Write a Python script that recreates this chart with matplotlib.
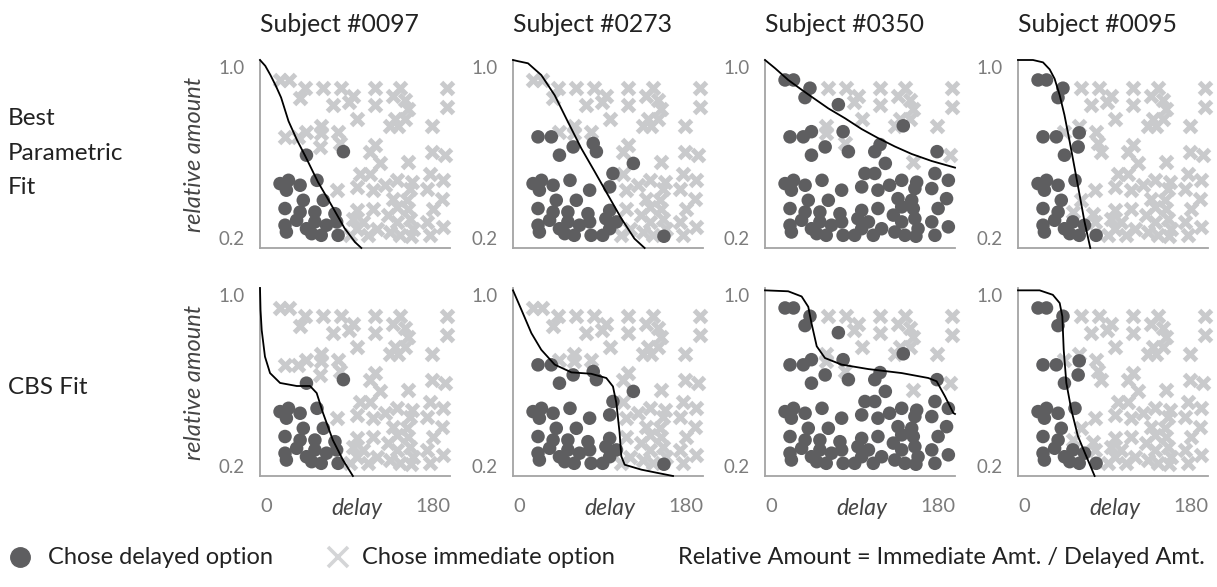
import matplotlib.pyplot as plt
from matplotlib.lines import Line2D

plt.rcParams['font.family'] = ['Lato', 'DejaVu Sans']

# shared stimulus set: delay (days) and relative amount of each question
delay = [19, 27, 42.6, 37.9, 60, 77, 88, 84, 109, 133,
         177, 126, 137, 109, 177, 69.5, 140.5, 91.6, 128, 137,
         123, 131, 163, 58, 58, 23.7, 36.3, 44, 74, 76,
         57, 79, 44, 104, 109, 114, 163, 140.5, 175, 94.7,
         104, 161, 19, 27, 25, 38, 54, 72.6, 91.6, 107,
         118, 129.5, 143.7, 142, 158, 173.7, 41, 60, 126, 129.5,
         139, 140.5, 172, 164, 23.7, 38, 52, 71, 91.6, 107,
         121.6, 23.7, 25, 34.7, 44, 52, 49, 63, 58, 72.6,
         74, 88, 91.6, 85, 98, 102.6, 110.5, 123, 129.5, 132.6,
         142, 145, 158, 161, 173.7, 143]
amount = [0.915, 0.915, 0.88, 0.84, 0.88, 0.88, 0.845, 0.82, 0.88, 0.88,
          0.88, 0.845, 0.83, 0.81, 0.80, 0.81, 0.79, 0.75, 0.75, 0.75,
          0.72, 0.72, 0.72, 0.72, 0.69, 0.673, 0.673, 0.695, 0.695, 0.645,
          0.63, 0.61, 0.595, 0.61, 0.64, 0.56, 0.61, 0.567, 0.595, 0.517,
          0.517, 0.517, 0.474, 0.488, 0.446, 0.467, 0.488, 0.446, 0.46, 0.446,
          0.467, 0.488, 0.48, 0.453, 0.453, 0.488, 0.403, 0.403, 0.41, 0.375,
          0.403, 0.368, 0.41, 0.368, 0.368, 0.353, 0.353, 0.346, 0.36, 0.368,
          0.34, 0.297, 0.268, 0.318, 0.282, 0.311, 0.261, 0.297, 0.254, 0.311,
          0.254, 0.325, 0.282, 0.254, 0.311, 0.254, 0.282, 0.268, 0.311, 0.254,
          0.325, 0.282, 0.311, 0.254, 0.29, 0.25]

subjects = ["Subject #0097", "Subject #0273", "Subject #0350", "Subject #0095"]

# questions where each subject picked the delayed option
delayed_0097 = [31, 32, 42, 43, 44, 45, 46, 56, 57, 64, 65, 66, 67,
                71, 72, 73, 74, 75, 76, 77, 78, 79, 80]
delayed_0273 = [25, 26, 29, 30, 31, 32, 35, 39, 42, 43, 44, 45, 46, 47, 48,
                56, 57, 64, 65, 66, 67, 68, 71, 72, 73, 74, 75, 76, 77, 78,
                79, 80, 81, 82, 83, 84, 95]
delayed_0350 = [0, 1, 2, 3, 15, 21, 25, 26, 27, 28, 30, 31, 32, 33, 34, 35, 36,
                39, 40, 41, 42, 43, 44, 45, 46, 47, 48, 49, 50, 51, 52, 53, 54,
                55, 56, 57, 58, 59, 60, 61, 62, 63, 64, 65, 66, 67, 68, 69, 70,
                71, 72, 73, 74, 75, 76, 77, 78, 79, 80, 81, 82, 83, 84, 85, 86,
                87, 88, 89, 90, 91, 92, 93, 94, 95]
delayed_0095 = [0, 1, 2, 3, 24, 25, 26, 30, 32, 42, 43, 44, 45, 46, 56, 64, 65,
                71, 72, 73, 74, 75, 76, 77, 78, 80]
delayed_all = [delayed_0097, delayed_0273, delayed_0350, delayed_0095]

# best parametric fit curves
param_d_0097 = [0, 5, 10, 15, 20, 27, 35, 43, 55, 68, 80, 90, 96]
param_a_0097 = [1.0, 0.975, 0.935, 0.89, 0.84, 0.74, 0.66, 0.59, 0.48, 0.38, 0.285, 0.225, 0.2]
param_d_0273 = [0, 4.7, 14.2, 26.8, 39.5, 52, 64.7, 77.4, 90, 102.6, 115, 124.7]
param_a_0273 = [1.0, 0.995, 0.986, 0.936, 0.85, 0.737, 0.624, 0.525, 0.425, 0.326, 0.24, 0.2]
param_d_0350 = [0, 9.5, 22, 33, 44, 60, 75.8, 91.6, 107, 123, 139, 158, 180]
param_a_0350 = [1.0, 0.965, 0.915, 0.879, 0.844, 0.794, 0.752, 0.706, 0.668, 0.632, 0.6, 0.57, 0.542]
param_d_0095 = [0, 14.2, 23.7, 30, 34.7, 39.5, 44, 49, 53.7, 58.4, 63, 68.5]
param_a_0095 = [1.0, 1.0, 0.99, 0.96, 0.92, 0.85, 0.766, 0.652, 0.539, 0.425, 0.312, 0.2]

# CBS fit curves
cbs_d_0097 = [0, 0.5, 1.6, 4.7, 9.5, 19, 34.8, 47.4, 53.7, 59.7, 69, 78.6, 88]
cbs_a_0097 = [1.0, 0.906, 0.821, 0.708, 0.638, 0.596, 0.583, 0.583, 0.553, 0.468, 0.353, 0.268, 0.2]
cbs_d_0273 = [0, 7.9, 17.4, 26.8, 39.5, 55.3, 74, 88.4, 94.7, 97.9, 101, 102.6, 105.8, 121.6, 137, 151.6]
cbs_a_0273 = [0.99, 0.908, 0.808, 0.737, 0.674, 0.641, 0.635, 0.617, 0.581, 0.511, 0.383, 0.284, 0.248, 0.227, 0.213, 0.2]
cbs_d_0350 = [0, 22, 34.7, 41, 44, 49, 56.8, 72.6, 97.9, 129.5, 154.7, 162.6, 170.5, 178.4, 180]
cbs_a_0350 = [0.99, 0.986, 0.964, 0.92, 0.851, 0.752, 0.702, 0.674, 0.655, 0.638, 0.617, 0.603, 0.539, 0.468, 0.464]
cbs_d_0095 = [0, 20.5, 33, 39.5, 42, 43.3, 45.8, 50.5, 56.8, 64.7, 72.6]
cbs_a_0095 = [0.99, 0.99, 0.971, 0.936, 0.879, 0.737, 0.596, 0.482, 0.369, 0.284, 0.2]

param_curves = [(param_d_0097, param_a_0097), (param_d_0273, param_a_0273),
                (param_d_0350, param_a_0350), (param_d_0095, param_a_0095)]
cbs_curves = [(cbs_d_0097, cbs_a_0097), (cbs_d_0273, cbs_a_0273),
              (cbs_d_0350, cbs_a_0350), (cbs_d_0095, cbs_a_0095)]

DOT = "#5e5e60"
CROSS = "#c9cacc"
SPINE = "#a4a4a4"
TICK = "#7c7c7c"
TEXT = "#222222"

FW, FH = 1217, 587
col_left = [260, 513, 765, 1018]
row_top = [60, 288]
W, H = 190, 188

fig = plt.figure(figsize=(FW / 100, FH / 100), dpi=100)

for r, curves in enumerate([param_curves, cbs_curves]):
    for c in range(4):
        ax = fig.add_axes([col_left[c] / FW, 1 - (row_top[r] + H) / FH, W / FW, H / FH])
        chosen = set(delayed_all[c])
        dx = [d for i, d in enumerate(delay) if i not in chosen]
        dy = [a for i, a in enumerate(amount) if i not in chosen]
        ox = [d for i, d in enumerate(delay) if i in chosen]
        oy = [a for i, a in enumerate(amount) if i in chosen]
        ax.scatter(dx, dy, marker="x", s=75, linewidths=3.6, color=CROSS, clip_on=False, zorder=2)
        ax.scatter(ox, oy, marker="o", s=95, color=DOT, edgecolors="none", clip_on=False, zorder=3)
        ax.plot(curves[c][0], curves[c][1], color="black", lw=1.3, zorder=4, clip_on=False)

        ax.set_xlim(0, 180)
        ax.set_ylim(0.2, 1.0)
        for s in ["top", "right"]:
            ax.spines[s].set_visible(False)
        for s in ["left", "bottom"]:
            ax.spines[s].set_color(SPINE)
            ax.spines[s].set_linewidth(1.3)

        ax.set_yticks([0.2, 1.0])
        ax.set_yticklabels(["0.2", "1.0"], color=TICK, fontsize=13.5)
        ax.tick_params(axis="y", length=0, pad=11)
        ylabels = ax.get_yticklabels()
        ylabels[0].set_va("bottom")
        ylabels[1].set_va("top")

        if r == 1:
            ax.set_xticks([0, 92, 180])
            ax.set_xticklabels(["0", "delay", "180"], color=TICK, fontsize=14.5)
            ax.tick_params(axis="x", length=0, pad=16)
            xlabels = ax.get_xticklabels()
            xlabels[0].set_ha("left")
            xlabels[1].set_style("italic")
            xlabels[1].set_color("#444444")
            xlabels[1].set_fontsize(16.5)
            xlabels[2].set_ha("right")
        else:
            ax.set_xticks([])
            fig.text(col_left[c] / FW, 1 - 25 / FH, subjects[c], ha="left", va="center",
                     fontsize=17.8, color=TEXT)

        if c == 0:
            ax.set_ylabel("relative amount", fontsize=17, style="italic", color="#444444",
                          labelpad=10)

fig.text(8 / FW, 1 - 153 / FH, "Best\nParametric\nFit", ha="left", va="center",
         fontsize=17.5, color=TEXT, linespacing=1.78)
fig.text(8 / FW, 1 - 388 / FH, "CBS Fit", ha="left", va="center", fontsize=17.5, color=TEXT)

# legend row
ly = 1 - 557 / FH
fig.add_artist(Line2D([20 / FW], [ly], marker="o", markersize=14, color=DOT, lw=0,
                      transform=fig.transFigure))
fig.add_artist(Line2D([338 / FW], [ly], marker="x", markersize=15, markeredgewidth=2.6,
                      color="#d4d5d7", lw=0, transform=fig.transFigure))
fig.text(48 / FW, ly, "Chose delayed option", ha="left", va="center", fontsize=17, color=TEXT)
fig.text(362 / FW, ly, "Chose immediate option", ha="left", va="center", fontsize=17, color=TEXT)
fig.text(678 / FW, ly, "Relative Amount = Immediate Amt. / Delayed Amt.", ha="left",
         va="center", fontsize=17, color=TEXT)

fig.savefig("out.png", dpi=100)
